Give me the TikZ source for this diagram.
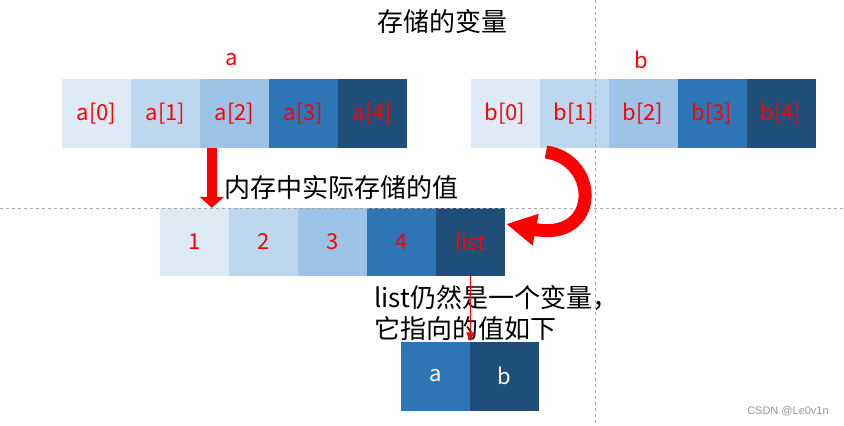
\documentclass[tikz,border=0pt]{standalone}
\usepackage{fontspec}
\setmainfont{Noto Sans CJK SC}
\newfontfamily\wmfont{Liberation Sans}
\usetikzlibrary{arrows.meta,calc}
\definecolor{c1}{HTML}{DEEBF7}
\definecolor{c2}{HTML}{BDD7EE}
\definecolor{c3}{HTML}{9DC3E6}
\definecolor{c4}{HTML}{2E75B6}
\definecolor{c5}{HTML}{1F4E79}
\definecolor{guide}{HTML}{A6A6A6}
\tikzset{
  cell/.style={rectangle, minimum width=69pt, minimum height=69pt, inner sep=0pt, text=red, font=\fontsize{22}{26}\selectfont},
  wcell/.style={cell, text=white},
  bigtxt/.style={font=\fontsize{26}{31}\selectfont, text=black, inner sep=0pt},
  lbl/.style={font=\fontsize{22}{26}\selectfont, text=red, inner sep=0pt},
  guideline/.style={draw=guide, line width=0.8pt, dash pattern=on 3pt off 3pt},
  fatarrow/.style={draw=red, line width=10pt, -{Triangle[length=11pt,width=24pt]}},
  curvearrow/.style={draw=red, line width=13pt, -{Triangle[length=30pt,width=30pt]}},
  thinarrow/.style={draw=red, line width=1pt, -{Triangle[length=9pt,width=8pt]}}
}
\begin{document}
\begin{tikzpicture}[x=1pt,y=-1pt]
\useasboundingbox (0,0) rectangle (844,426);
% title
\node[bigtxt] (title) at (442,22) {存储的变量};
\node[lbl] (la) at (232,60) {a};
\node[lbl] (lb) at (641,60) {b};
% row a
\node[cell, fill=c1] (a0) at (96.5,113.5) {a[0]};
\node[cell, fill=c2] (a1) at (165.5,113.5) {a[1]};
\node[cell, fill=c3] (a2) at (234.5,113.5) {a[2]};
\node[cell, fill=c4] (a3) at (303.5,113.5) {a[3]};
\node[cell, fill=c5] (a4) at (372.5,113.5) {a[4]};
% row b
\node[cell, fill=c1] (b0) at (505,113.5) {b[0]};
\node[cell, fill=c2] (b1) at (574,113.5) {b[1]};
\node[cell, fill=c3] (b2) at (643,113.5) {b[2]};
\node[cell, fill=c4] (b3) at (712,113.5) {b[3]};
\node[cell, fill=c5] (b4) at (781,113.5) {b[4]};
% middle row
\node[cell, fill=c1, minimum height=68pt] (m1) at (194.5,242) {1};
\node[cell, fill=c2, minimum height=68pt] (m2) at (263.5,242) {2};
\node[cell, fill=c3, minimum height=68pt] (m3) at (332.5,242) {3};
\node[cell, fill=c4, minimum height=68pt] (m4) at (401.5,242) {4};
\node[cell, fill=c5, minimum height=68pt] (ml) at (470.5,242) {list};
% bottom row
\node[wcell, fill=c4] (ba) at (435.5,376) {a};
\node[wcell, fill=c5] (bb) at (504.5,376) {b};
% texts
\node[bigtxt, anchor=west] (memtxt) at (224,188) {内存中实际存储的值};
\node[bigtxt, anchor=west, align=left] (listtxt) at (374,313) {list仍然是一个变量，\\它指向的值如下};
\node[font=\wmfont\fontsize{11}{13}\selectfont, text=guide!90!black, inner sep=0pt] (wm) at (788,411) {CSDN @Le0v1n};
% guide lines
\draw[guideline] (595.5,0) -- (595.5,426);
\draw[guideline] (0,208) -- (844,208);
% arrows
\coordinate (fromA) at ($(a2.south west)+(12,0)$);
\coordinate (toM) at ($(m1.north west)+(52,0)$);
\draw[fatarrow] (fromA) -- (toM);
\coordinate (fromB) at (546,152);
\coordinate (toL) at ($(ml.east)+(1,-18)$);
\draw[curvearrow] (fromB) .. controls (600,160) and (600,242) .. (toL);
\draw[thinarrow] (ml.south) -- (ba.north east);
\end{tikzpicture}
\end{document}
